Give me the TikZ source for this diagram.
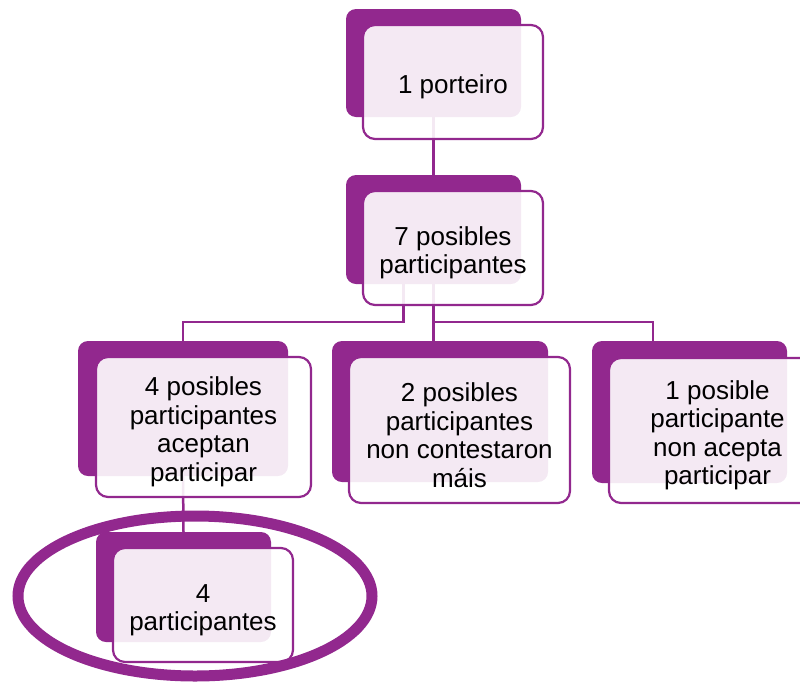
\documentclass[tikz,border=0pt]{standalone}
\usepackage{fontspec}
\setmainfont{Liberation Sans}
\usepackage{tikz}
\definecolor{plum}{RGB}{146,40,142}

\begin{document}
\begin{tikzpicture}[
            x=1pt, y=-1pt,
            backbox/.style={fill=plum, rounded corners=10pt, inner sep=0pt},
            frontbox/.style={draw=plum, line width=2.2pt, fill=white, fill opacity=0.9,
                             rounded corners=12pt},
            boxtext/.style={align=center, yshift=-5pt, text opacity=1,
                            font=\fontsize{26}{28.5}\selectfont},
            link/.style={draw=plum, line width=2.5pt},
            ring/.style={draw=plum, line width=11pt}
        ]
            \useasboundingbox (0,0) rectangle (800,683);

            % back boxes
            \node[backbox, minimum width=175, minimum height=108] (b1) at (433.5,63) {};
            \node[backbox, minimum width=175, minimum height=109] (b2) at (433.5,229.5) {};
            \node[backbox, minimum width=210, minimum height=135] (bA) at (183,408.5) {};
            \node[backbox, minimum width=216, minimum height=141] (bB) at (440,411.5) {};
            \node[backbox, minimum width=195, minimum height=142] (bC) at (689.5,412) {};
            \node[backbox, minimum width=175, minimum height=110] (bD) at (183.5,587) {};

            % connectors
            \draw[link] (b1.south) -- (b2.north);
            \draw[link] ([xshift=-30]b2.south) -- ++(0,38) -| (bA.north);
            \draw[link] (b2.south) -- (b2.south |- bB.north);
            \draw[link] (b2.south) -- ++(0,38) -| ([xshift=-36.5]bC.north);
            \draw[link] (bA.south) -- (bD.north);

            % front boxes
            \node[frontbox, minimum width=180, minimum height=114,
                  label={[boxtext]center:1 porteiro}] (f1) at (453,82) {};
            \node[frontbox, minimum width=180, minimum height=114,
                  label={[boxtext]center:{7 posibles\\participantes}}] (f2) at (453,248) {};
            \node[frontbox, minimum width=215, minimum height=140,
                  label={[boxtext]center:{4 posibles\\participantes\\aceptan\\participar}}] (fA) at (203.5,427) {};
            \node[frontbox, minimum width=221, minimum height=146,
                  label={[boxtext]center:{2 posibles\\participantes\\non contestaron\\máis}}] (fB) at (459.5,430) {};
            \node[frontbox, minimum width=217, minimum height=145,
                  label={[boxtext]center:{1 posible\\participante\\non acepta\\participar}}] (fC) at (717.5,430.5) {};
            \node[frontbox, minimum width=180, minimum height=114,
                  label={[boxtext]center:{4\\participantes}}] (fD) at (203,605) {};

            % highlight
            \draw[ring] (195,596) ellipse [x radius=177, y radius=80];

        \end{tikzpicture}
\end{document}
